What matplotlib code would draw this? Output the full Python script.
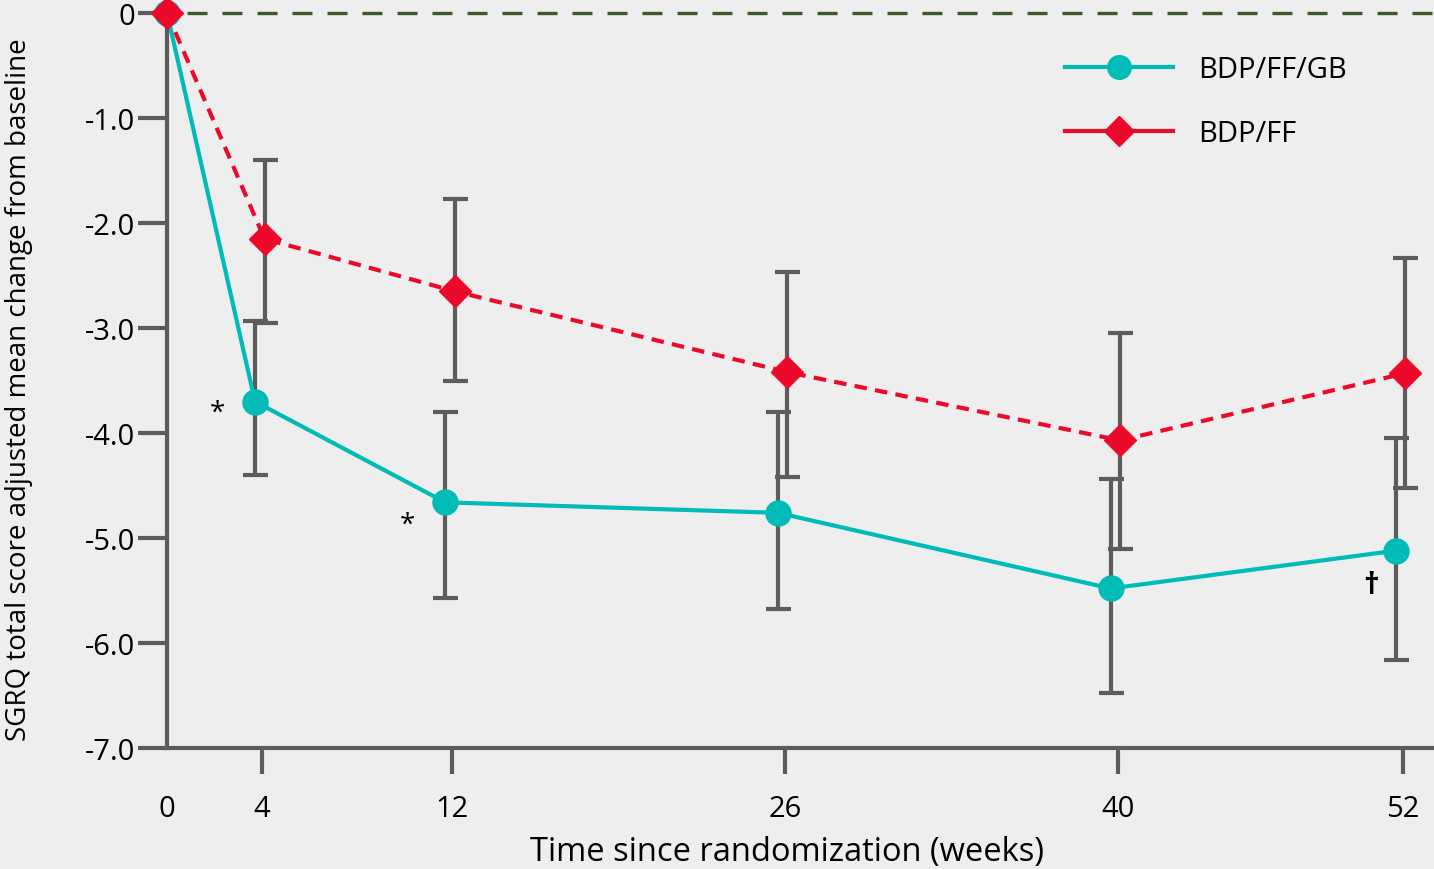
import matplotlib
matplotlib.use("Agg")
import matplotlib.pyplot as plt
from matplotlib.lines import Line2D
import numpy as np

plt.rcParams['font.family'] = ['Open Sans', 'DejaVu Sans']

weeks = [0, 4, 12, 26, 40, 52]

# BDP/FF/GB
triple_mean = [0.0, -3.70, -4.66, -4.76, -5.48, -5.12]
triple_hi = [0.0, -2.93, -3.80, -3.80, -4.44, -4.05]
triple_lo = [0.0, -4.40, -5.57, -5.68, -6.48, -6.16]

# BDP/FF
dual_mean = [0.0, -2.15, -2.65, -3.42, -4.07, -3.43]
dual_hi = [0.0, -1.40, -1.77, -2.47, -3.05, -2.33]
dual_lo = [0.0, -2.95, -3.50, -4.42, -5.10, -4.52]

yticks = [0, -1, -2, -3, -4, -5, -6, -7]
ytick_labels = ["0", "-1.0", "-2.0", "-3.0", "-4.0", "-5.0", "-6.0", "-7.0"]

teal = "#00bbb6"
red = "#ec0a2b"
gray = "#5c5c5c"
bg = "#eeeeee"

fig = plt.figure(figsize=(14.34, 8.70), dpi=100, facecolor=bg)
ax = fig.add_axes([0.1165, 0.139, 1 - 0.1165, 0.9839 - 0.139])
ax.set_facecolor(bg)

x = np.array(weeks, dtype=float)
xt = x - 0.3 * (x > 0)
xd = x + 0.1 * (x > 0)

def err(mean, hi, lo):
    mean = np.array(mean)
    return np.array([mean - np.array(lo), np.array(hi) - mean])

# baseline reference line (sits on the top edge, so don't clip it)
ax.axhline(0, color="#3d5a2a", lw=2.4, dashes=(6, 4.5), zorder=1, xmin=0.016, clip_on=False)

ax.errorbar(xt[1:], np.array(triple_mean)[1:], yerr=err(triple_mean, triple_hi, triple_lo)[:, 1:],
            fmt="none", ecolor=gray, elinewidth=3, capsize=9, capthick=3, zorder=2)
ax.errorbar(xd[1:], np.array(dual_mean)[1:], yerr=err(dual_mean, dual_hi, dual_lo)[:, 1:],
            fmt="none", ecolor=gray, elinewidth=3, capsize=9, capthick=3, zorder=2)

ax.plot(xt, triple_mean, color=teal, lw=3, marker="o", ms=18, mec=teal,
        zorder=4, clip_on=False)
ax.plot(xd, dual_mean, color=red, lw=3, dashes=(3, 2), marker="D", ms=16, mec=red,
        zorder=5, clip_on=False)

# significance marks
ax.annotate("*", (xt[1], triple_mean[1]), xytext=(-27, -8), textcoords="offset points",
            ha="center", va="center", fontsize=20)
ax.annotate("*", (xt[2], triple_mean[2]), xytext=(-27, -16), textcoords="offset points",
            ha="center", va="center", fontsize=20)
ax.annotate("\u2020", (xt[5], triple_mean[5]), xytext=(-18, -25), textcoords="offset points",
            ha="center", va="center", fontsize=22, fontweight="bold")

ax.set_xlim(0, 53.3)
ax.set_ylim(-7, 0)
ax.set_xticks(weeks)
ax.set_xticklabels([str(w) for w in weeks])
ax.set_yticks(yticks)
ax.set_yticklabels(ytick_labels)

for s in ["top", "right"]:
    ax.spines[s].set_visible(False)
for s in ["left", "bottom"]:
    ax.spines[s].set_color(gray)
    ax.spines[s].set_linewidth(3)

ax.tick_params(axis="y", length=21, width=3, color=gray, labelsize=21, pad=2)
ax.tick_params(axis="x", length=19, width=3, color=gray, labelsize=21, pad=14)
ax.xaxis.get_major_ticks()[0].tick1line.set_visible(False)

ax.set_ylabel("SGRQ total score adjusted mean change from baseline", fontsize=20)
ax.yaxis.set_label_coords(-0.106, 0.489)
ax.set_xlabel("Time since randomization (weeks)", fontsize=23.5)
ax.xaxis.set_label_coords(0.489, -0.118)

handles = [
    Line2D([], [], color=teal, lw=3, marker="o", ms=17, mec=teal),
    Line2D([], [], color=red, lw=3, marker="D", ms=15, mec=red),
]
ax.legend(handles, ["BDP/FF/GB", "BDP/FF"], loc="upper left", bbox_to_anchor=(0.688, 0.978),
          frameon=False, fontsize=21, handlelength=3.7, handletextpad=0.85, labelspacing=1.2)

fig.savefig("out.png", dpi=100, facecolor=bg)
